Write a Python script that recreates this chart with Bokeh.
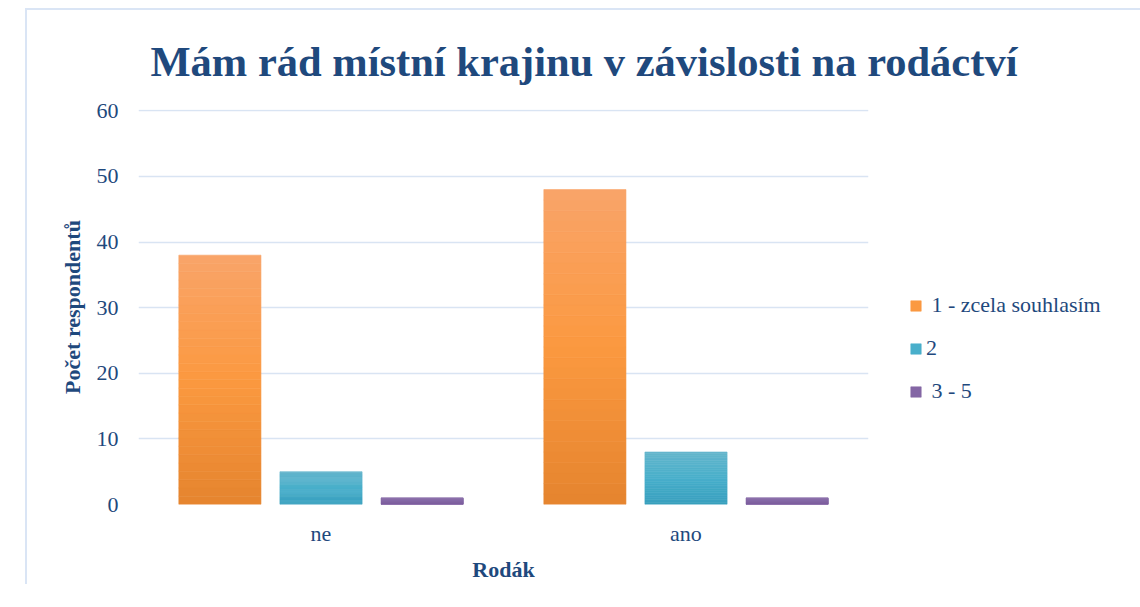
from bokeh.plotting import figure
from bokeh.models import ColumnDataSource, Legend, LegendItem, FactorRange, Range1d
from bokeh.transform import dodge
from bokeh.embed import file_html
from bokeh.resources import INLINE

categories = ["ne", "ano"]
series_names = [" 1 - zcela souhlasím", "2", " 3 - 5"]
s1 = [38, 48]
s2 = [5, 8]
s3 = [1, 1]
# gradient stops (bottom, middle, top) for each series
grad1 = ["#e5842e", "#fb9940", "#f9a469"]
grad2 = ["#389fbe", "#48afcb", "#65b6cc"]
grad3 = ["#7b5c9e", "#8466a5", "#8d70ac"]

TEXT = "#1f497d"
GRID = "#d9e4f3"
FRAME = "#dae5f5"
FONT = "Liberation Serif"


def hex2rgb(h):
    h = h.lstrip("#")
    return tuple(int(h[i:i + 2], 16) for i in (0, 2, 4))


def mix(c1, c2, t):
    a, b = hex2rgb(c1), hex2rgb(c2)
    return "#%02x%02x%02x" % tuple(round(a[k] + (b[k] - a[k]) * t) for k in range(3))


def grad_color(stops, f):
    if f <= 0.5:
        return mix(stops[0], stops[1], f / 0.5)
    return mix(stops[1], stops[2], (f - 0.5) / 0.5)


p = figure(x_range=FactorRange(*categories), y_range=Range1d(0, 60.2),
           frame_width=730, frame_height=395, output_backend="svg", toolbar_location=None,
           min_border_left=111, min_border_right=240, min_border_top=10, min_border_bottom=80)
p.margin = (8, 0, 0, 25)
p.styles = {"border-left": "2px solid " + FRAME, "border-top": "2px solid " + FRAME}

p.title.text = "Mám rád místní krajinu v závislosti na rodáctví"
p.title.text_font = FONT
p.title.text_font_size = "42.5px"
p.title.text_font_style = "bold"
p.title.text_color = TEXT
p.title.align = "left"
p.title.offset = 12
p.title.standoff = 50

N = 30
legend_renderers = []
for vals, off, stops in zip([s1, s2, s3], [-0.277, 0.0, 0.277], [grad1, grad2, grad3]):
    first = None
    for i in range(N):
        f = (i + 0.5) / N
        src = ColumnDataSource(data=dict(
            cat=categories,
            top=[v * (i + 1) / N for v in vals],
            bottom=[v * i / N for v in vals],
        ))
        c = grad_color(stops, f)
        r = p.vbar(x=dodge("cat", off, range=p.x_range), top="top", bottom="bottom", width=0.225,
                   source=src, fill_color=c, line_color=c, line_width=0.6)
        if i == N // 2:
            first = r
    legend_renderers.append(first)

legend = Legend(items=[LegendItem(label=n, renderers=[r]) for n, r in zip(series_names, legend_renderers)],
                location=(41, 100), orientation="vertical")
legend.label_text_font = FONT
legend.label_text_font_size = "22px"
legend.label_text_color = TEXT
legend.glyph_width = 13
legend.glyph_height = 13
legend.spacing = 17
legend.padding = 0
legend.margin = 0
legend.label_standoff = 4
legend.border_line_color = None
legend.background_fill_alpha = 0
p.add_layout(legend, "right")

p.xgrid.grid_line_color = None
p.ygrid.grid_line_color = GRID
p.ygrid.grid_line_width = 1.5
p.yaxis.ticker = [0, 10, 20, 30, 40, 50, 60]

for ax in (p.xaxis[0], p.yaxis[0]):
    ax.axis_line_color = None
    ax.major_tick_line_color = None
    ax.minor_tick_line_color = None
    ax.major_tick_out = 0
    ax.major_tick_in = 0
    ax.major_label_text_font = FONT
    ax.major_label_text_font_size = "22px"
    ax.major_label_text_color = TEXT
    ax.axis_label_text_font = FONT
    ax.axis_label_text_font_style = "bold"
    ax.axis_label_text_font_size = "22px"
    ax.axis_label_text_color = TEXT

p.yaxis.axis_label = "Počet respondentů"
p.xaxis.axis_label = "Rodák"
p.yaxis.major_label_standoff = 20
p.xaxis.major_label_standoff = 16
p.xaxis.axis_label_standoff = 8
p.yaxis.axis_label_standoff = 9

p.outline_line_color = None

with open("out.html", "w") as f:
    f.write(file_html(p, INLINE))
